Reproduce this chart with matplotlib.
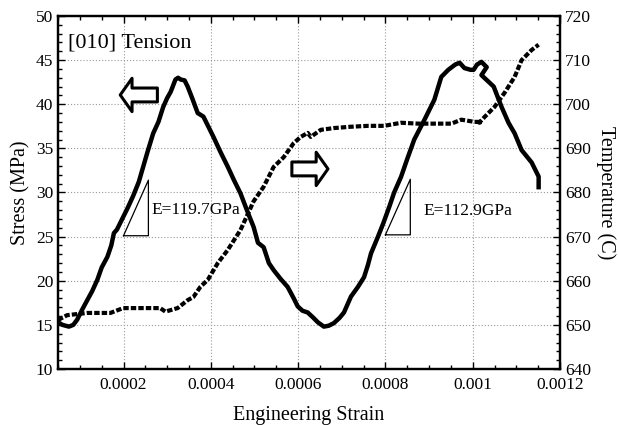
import matplotlib
matplotlib.use("Agg")
import matplotlib.pyplot as plt
from matplotlib.ticker import MultipleLocator

plt.rcParams['font.family'] = ['Liberation Serif', 'DejaVu Serif']

# Stress curve (strain in 1e-4 units, stress MPa)
stress_strain = [0.50, 0.60, 0.75, 0.85, 0.94, 1.05, 1.17, 1.28, 1.40, 1.50, 1.63, 1.72, 1.78, 1.85,
                 1.99, 2.10, 2.22, 2.35, 2.45, 2.55, 2.68, 2.80, 2.91, 3.00, 3.08, 3.19, 3.25, 3.31,
                 3.40, 3.47, 3.58, 3.70, 3.83, 3.95, 4.06, 4.22, 4.39, 4.53, 4.68, 4.85, 4.98, 5.08,
                 5.21, 5.33, 5.44, 5.60, 5.76, 5.90, 5.99, 6.10, 6.22, 6.35, 6.45, 6.59, 6.70, 6.82,
                 6.95, 7.05, 7.21, 7.37, 7.51, 7.60, 7.67, 7.83, 7.95, 8.09, 8.20, 8.36, 8.50, 8.66,
                 8.89, 9.12, 9.28, 9.44, 9.60, 9.70, 9.81, 9.95, 10.02, 10.10, 10.20, 10.32, 10.20,
                 10.48, 10.66, 10.82, 10.96, 11.12, 11.35, 11.51, 11.51]
stress = [15.3, 15.0, 14.8, 15.0, 15.6, 16.7, 17.8, 18.8, 20.1, 21.5, 22.7, 24.0, 25.4, 25.8,
          27.2, 28.3, 29.6, 31.2, 32.9, 34.6, 36.7, 38.0, 39.7, 40.7, 41.4, 42.8, 43.0, 42.8,
          42.7, 42.0, 40.6, 39.0, 38.6, 37.4, 36.3, 34.6, 32.9, 31.4, 29.9, 27.7, 26.1, 24.3,
          23.8, 22.0, 21.2, 20.2, 19.3, 18.0, 17.1, 16.6, 16.4, 15.8, 15.3, 14.8, 14.9, 15.2,
          15.8, 16.4, 18.2, 19.3, 20.4, 21.8, 23.1, 25.0, 26.5, 28.4, 30.0, 31.8, 33.8, 36.0,
          38.2, 40.5, 43.1, 43.9, 44.5, 44.7, 44.1, 43.9, 43.9, 44.5, 44.8, 44.2, 43.3,
          42.0, 39.7, 37.9, 36.7, 34.8, 33.4, 31.8, 30.6]

# Temperature curve (strain in 1e-4 units, temperature C)
temp_strain = [0.50, 0.71, 1.17, 1.70, 1.99, 2.22, 2.55, 2.84, 2.96, 3.24, 3.47, 3.60, 3.76, 3.93,
               4.16, 4.39, 4.68, 4.98, 5.21, 5.44, 5.67, 5.90, 6.06, 6.22, 6.29, 6.52, 6.82, 7.21,
               7.60, 7.97, 8.36, 8.75, 9.12, 9.51, 9.74, 10.04, 10.20, 10.15, 10.27, 10.50, 10.73,
               10.96, 11.12, 11.35, 11.51]
temperature = [651.1, 652.2, 652.7, 652.7, 653.8, 653.8, 653.8, 653.8, 653.0, 653.8, 655.6, 656.3,
               658.6, 660.2, 664.0, 667.0, 671.5, 678.0, 681.3, 685.8, 688.0, 691.2, 692.6, 693.5,
               692.6, 694.2, 694.6, 694.9, 695.1, 695.1, 695.8, 695.6, 695.6, 695.6, 696.5, 696.0,
               696.0, 695.8, 697.1, 699.4, 702.6, 706.2, 710.0, 712.3, 713.5]

x_ticks = [0.0002, 0.0004, 0.0006, 0.0008, 0.001, 0.0012]
x_tick_labels = ["0.0002", "0.0004", "0.0006", "0.0008", "0.001", "0.0012"]
modulus_labels = ["E=119.7GPa", "E=112.9GPa"]

scale = 1e-4
sx = [v * scale for v in stress_strain]
tx = [v * scale for v in temp_strain]

fig = plt.figure(figsize=(6.18, 4.25), dpi=100)
ax = fig.add_axes([0.0939, 0.1318, 0.8123, 0.8306])
ax2 = ax.twinx()

ax.plot(sx, stress, color='black', lw=3.2, solid_joinstyle='round', zorder=5)
ax2.plot(tx, temperature, color='black', lw=3.0, linestyle=(0, (1.3, 0.5)), dash_capstyle='butt')

ax.set_xlim(0.00005, 0.0012)
ax.set_ylim(10, 50)
ax2.set_ylim(640, 720)

ax.set_xticks(x_ticks)
ax.set_xticklabels(x_tick_labels)
ax.xaxis.set_minor_locator(MultipleLocator(0.00005))
ax.yaxis.set_major_locator(MultipleLocator(5))
ax.yaxis.set_minor_locator(MultipleLocator(1))
ax2.yaxis.set_major_locator(MultipleLocator(10))
ax2.yaxis.set_minor_locator(MultipleLocator(2))

for a in (ax, ax2):
    a.tick_params(which='both', direction='in', labelsize=12.5, width=1)
    a.tick_params(which='major', length=5)
    a.tick_params(which='minor', length=3)
    for sp in a.spines.values():
        sp.set_linewidth(1.6)
ax.tick_params(which='both', top=True, right=False)
ax.tick_params(axis='x', pad=6)

ax.grid(True, which='major', color='#9a9a9a', linestyle=(0, (1, 1.8)), linewidth=0.8)

ax.set_xlabel("Engineering Strain", fontsize=14.5, labelpad=9)
ax.set_ylabel("Stress (MPa)", fontsize=14.5, labelpad=4)
ax2.set_ylabel("Temperature (C)", fontsize=14.5, rotation=270, labelpad=18)

ax.text(0.000072, 46.9, "[010] Tension", fontsize=16, va='center', ha='left')

# Slope triangles
ax.plot([0.0002, 0.000257, 0.000257, 0.0002], [25.1, 25.1, 31.4, 25.1], color='black', lw=0.9)
ax.text(0.000264, 28.0, modulus_labels[0], fontsize=12.5, va='center', ha='left')
ax.plot([0.0008, 0.000857, 0.000857, 0.0008], [25.2, 25.2, 31.5, 25.2], color='black', lw=0.9)
ax.text(0.000887, 27.9, modulus_labels[1], fontsize=12.5, va='center', ha='left')

# Block arrows
style = 'simple,head_length=0.85,head_width=2.4,tail_width=1.0'
ax.annotate('', xy=(0.0001925, 41.05), xytext=(0.0002776, 41.05),
            arrowprops=dict(arrowstyle=style, fc='white', ec='black', lw=2.2,
                            shrinkA=0, shrinkB=0, mutation_scale=10), zorder=6)
ax.annotate('', xy=(0.0006684, 32.67), xytext=(0.0005857, 32.67),
            arrowprops=dict(arrowstyle=style, fc='white', ec='black', lw=2.2,
                            shrinkA=0, shrinkB=0, mutation_scale=10), zorder=6)

fig.savefig("out.png", dpi=100)
